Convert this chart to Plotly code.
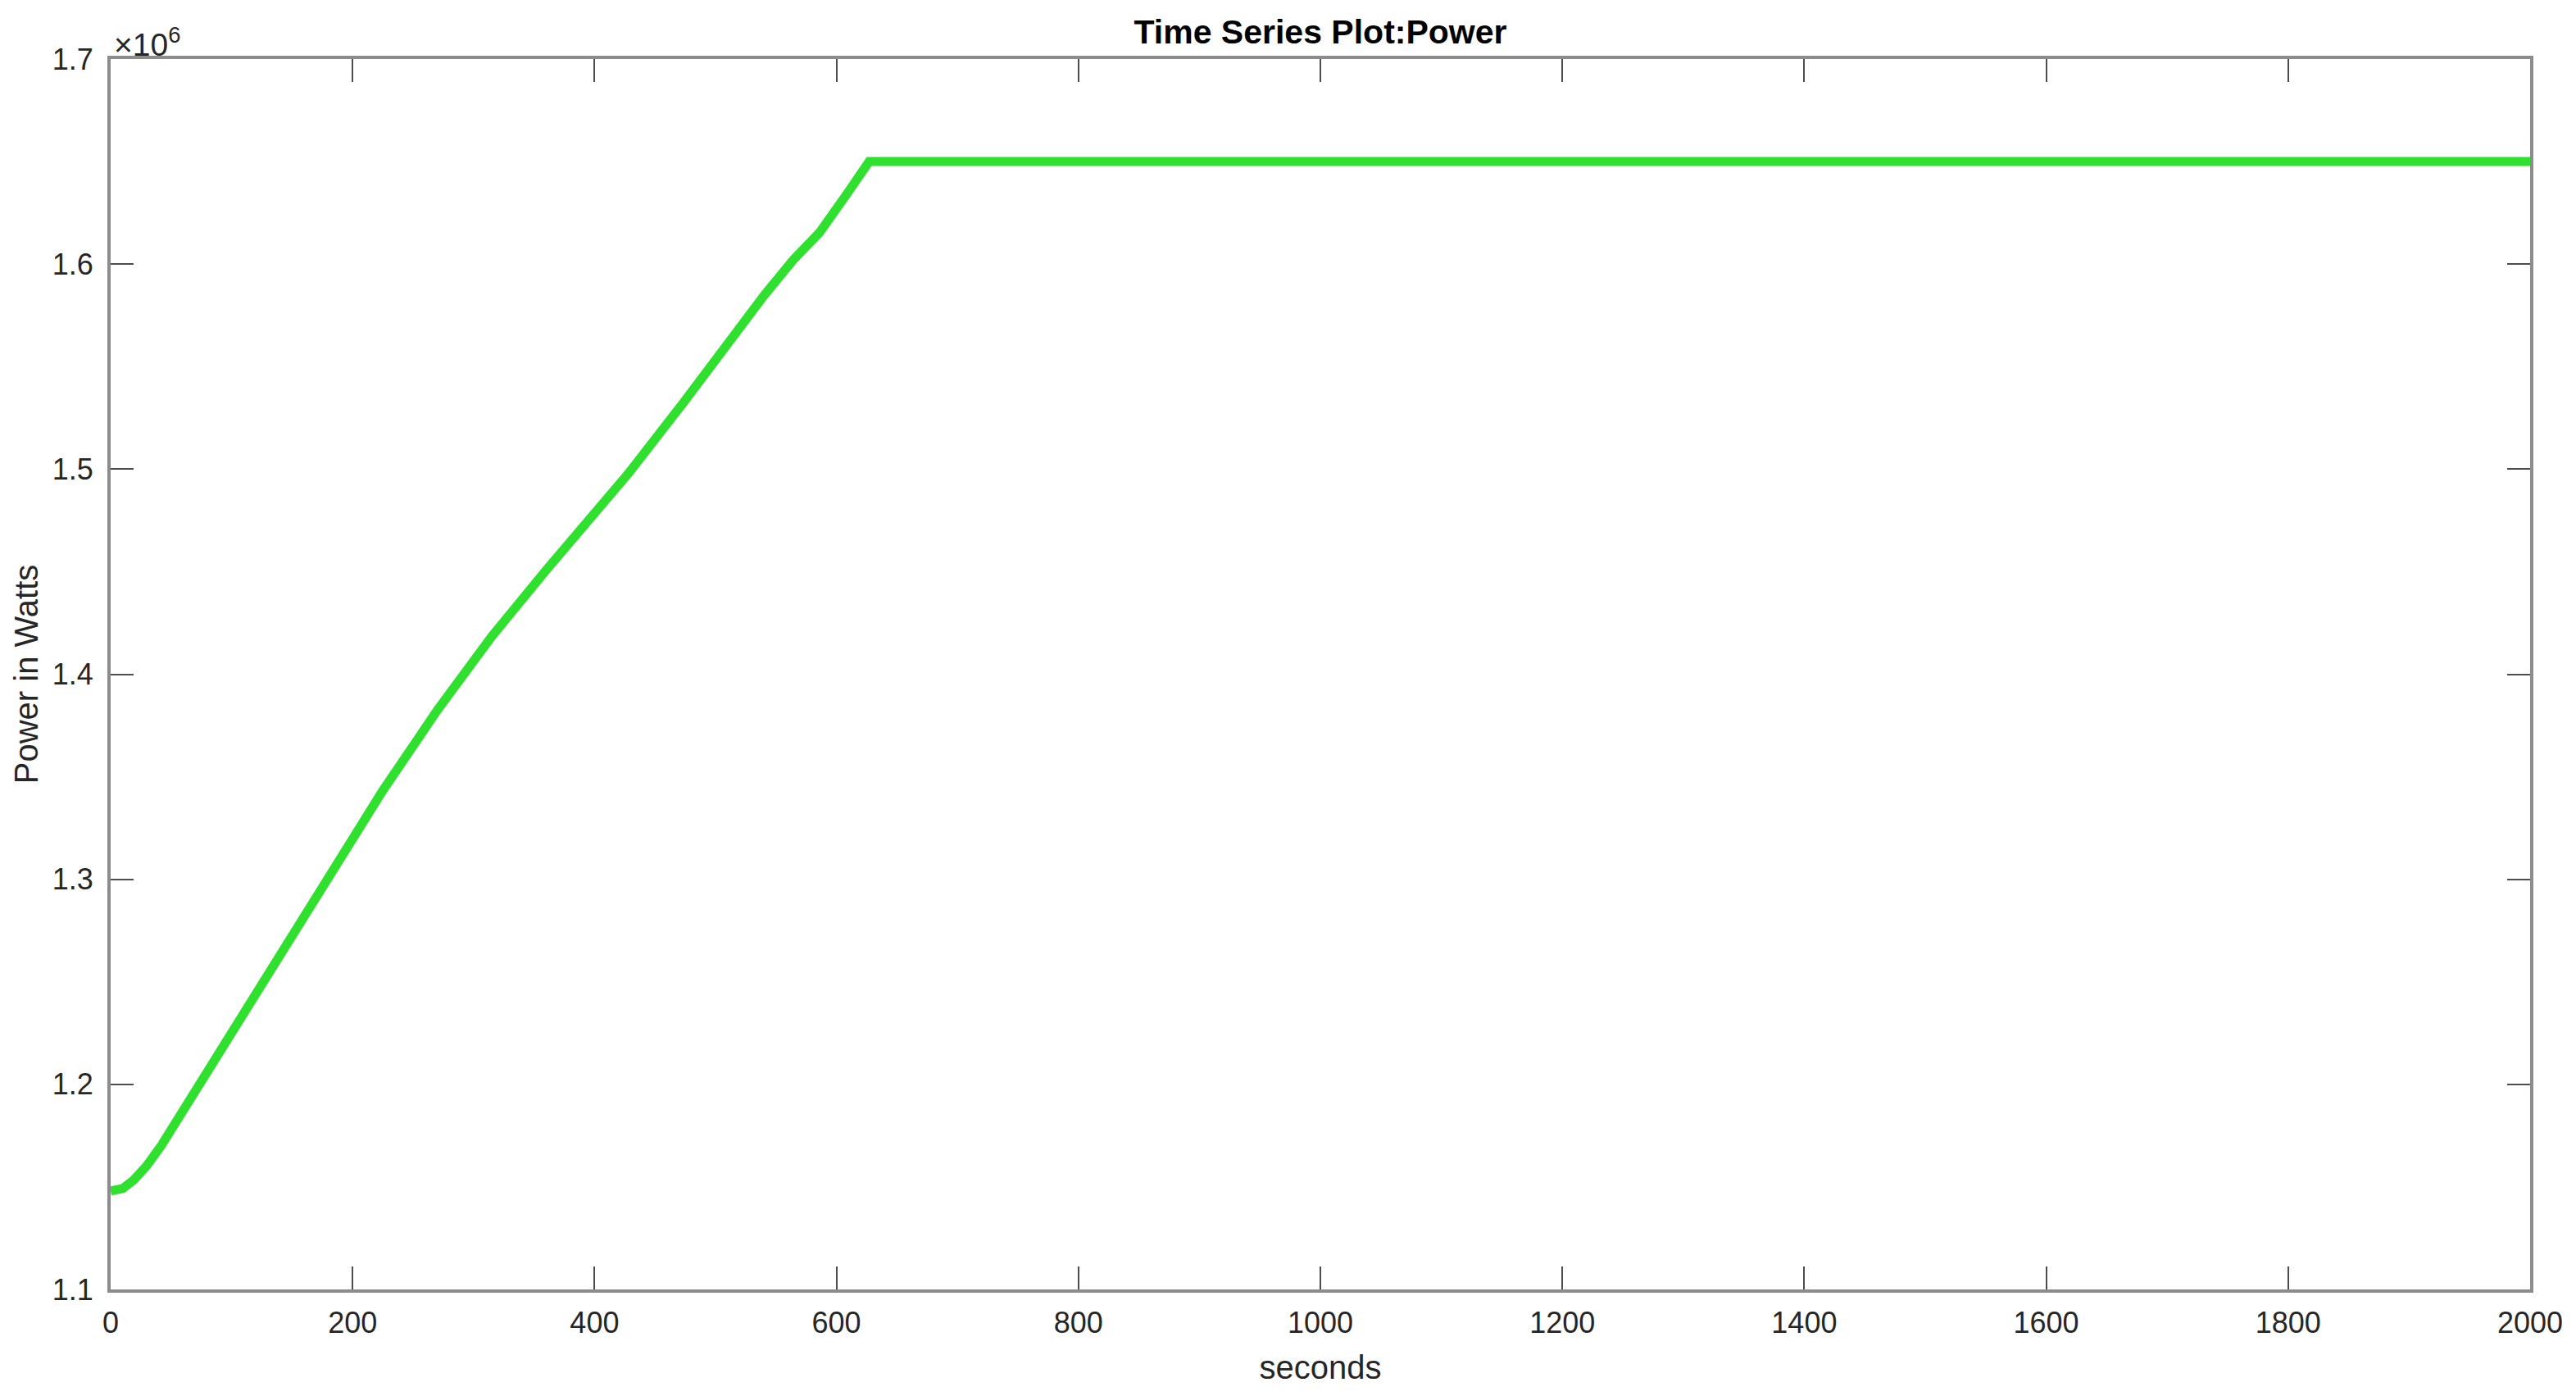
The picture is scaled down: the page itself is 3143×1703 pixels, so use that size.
import plotly.graph_objects as go

# time (s) and power (W)
seconds = [0, 5, 10, 19, 30, 42, 53, 64, 87, 110, 132, 155, 182, 225, 270,
           315, 360, 383, 428, 473, 518, 540, 564, 577, 586, 608, 627, 2000]
power = [1.1480e6, 1.14825e6, 1.14925e6, 1.1533e6, 1.16045e6, 1.1703e6,
         1.1808e6, 1.1916e6, 1.2132e6, 1.2348e6, 1.2557e6, 1.2776e6,
         1.3033e6, 1.3433e6, 1.3824e6, 1.4184e6, 1.4508e6, 1.4664e6,
         1.4979e6, 1.5321e6, 1.5677e6, 1.5846e6, 1.6019e6, 1.6100e6,
         1.6154e6, 1.6337e6, 1.6500e6, 1.6500e6]

x_ticks = [0, 200, 400, 600, 800, 1000, 1200, 1400, 1600, 1800, 2000]
y_ticks = [1.1e6, 1.2e6, 1.3e6, 1.4e6, 1.5e6, 1.6e6, 1.7e6]
y_labels = ["1.1", "1.2", "1.3", "1.4", "1.5", "1.6", "1.7"]

# page body has an 8px margin, so the figure is a bit smaller than the window
W, H = 3135, 1695
font = "Liberation Sans, Arial, Helvetica, sans-serif"

fig = go.Figure()
fig.add_scatter(x=seconds, y=power, mode="lines",
                line=dict(color="#2fe02f", width=11), showlegend=False)

axis_style = dict(
    showline=True, linecolor="#8c8c8c", linewidth=4, mirror="allticks",
    ticks="inside", ticklen=28, tickwidth=2, tickcolor="#4d4d4d",
    showgrid=False, zeroline=False,
    tickfont=dict(family=font, size=36, color="#262626"),
)

fig.update_xaxes(axis_style, range=[0, 2000], tickvals=x_ticks,
                 ticklabelstandoff=6,
                 title=dict(text="seconds", standoff=22,
                            font=dict(family=font, size=40, color="#262626")))
fig.update_yaxes(axis_style, range=[1.1e6, 1.7e6], tickvals=y_ticks,
                 ticktext=y_labels, ticklabelstandoff=10,
                 title=dict(text="Power in Watts", standoff=6,
                            font=dict(family=font, size=40, color="#262626")))

# MATLAB style exponent label above the y axis
fig.add_annotation(text="\u00d710<sup>6</sup>", xref="paper", yref="paper",
                   x=0, y=1, xanchor="left", yanchor="bottom", xshift=2,
                   yshift=-6, showarrow=False,
                   font=dict(family=font, size=39, color="#262626"))

fig.update_layout(
    width=W, height=H,
    margin=dict(l=127, r=56, t=64, b=130, autoexpand=False),
    paper_bgcolor="white", plot_bgcolor="white",
    title=dict(text="<b>Time Series Plot:Power</b>", x=0.5, xref="paper",
               xanchor="center", y=1 - 31 / H, yref="container",
               yanchor="middle",
               font=dict(family=font, size=41, color="black")),
)

fig.write_html("out.html")
